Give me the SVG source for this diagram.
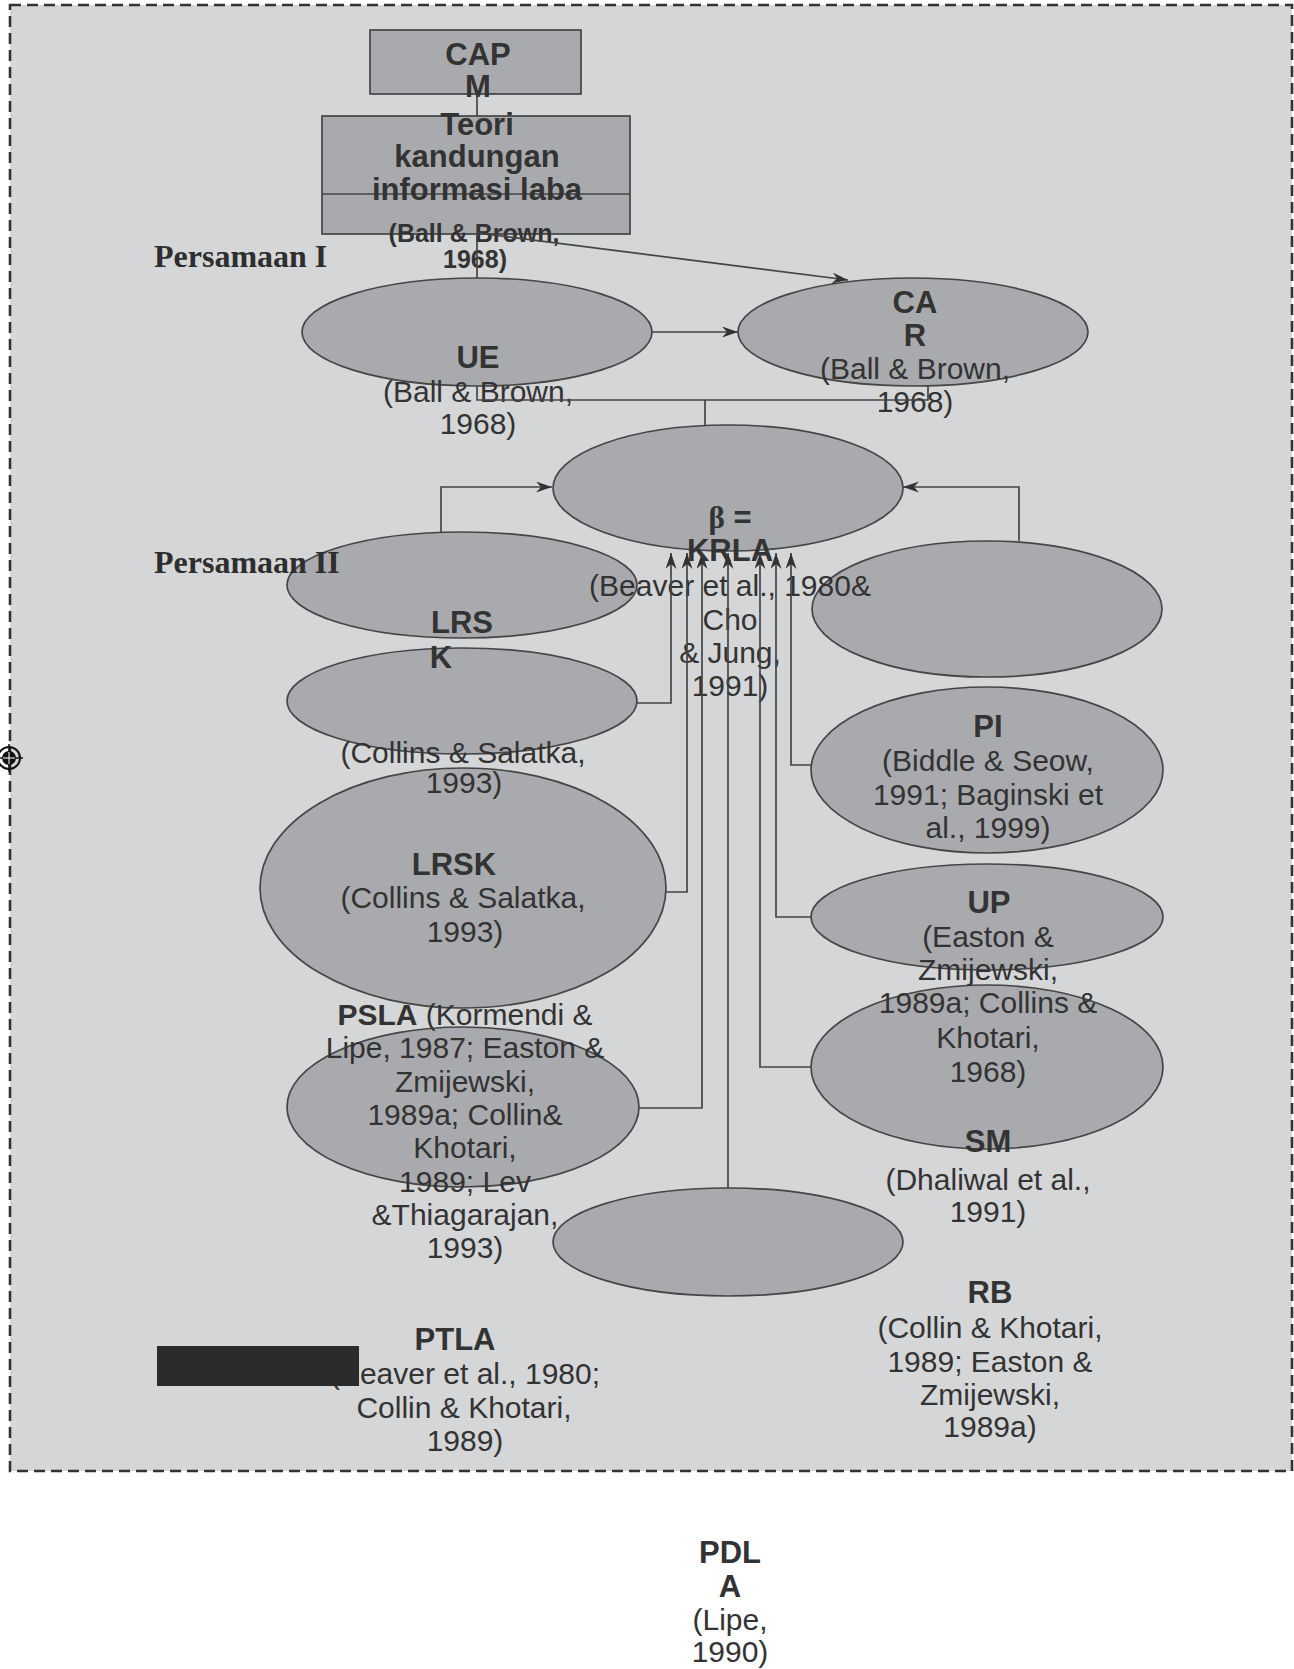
<svg xmlns="http://www.w3.org/2000/svg" width="1294" height="1669" viewBox="0 0 1294 1669">
<defs>
<style>
.bg{fill:#d5d6d8;stroke:#333;stroke-width:2.6;stroke-dasharray:11 6}
.sh{fill:#a9aaad;stroke:#454545;stroke-width:1.7}
.ln{fill:none;stroke:#454545;stroke-width:1.7}
text{font-family:"Liberation Sans",Arial,sans-serif;fill:#333;text-anchor:middle}
.t{font-weight:bold;font-size:31px}
.c{font-size:30px}
.s{font-weight:bold;font-size:25px}
.p{font-family:"Liberation Serif","Times New Roman",serif;font-weight:bold;font-size:32px;text-anchor:start;fill:#2e2e2e}
</style>
<marker id="ah" markerUnits="userSpaceOnUse" markerWidth="18" markerHeight="12" refX="16" refY="5.5" orient="auto">
<path d="M0,0 L16,5.5 L0,11 L5,5.5 z" fill="#333"/>
</marker>
</defs>
<rect x="0" y="0" width="1294" height="1669" fill="#ffffff"/>
<rect class="bg" x="10" y="5" width="1282" height="1466"/>
<g id="crosshair">
<circle cx="9" cy="758" r="11" fill="none" stroke="#111" stroke-width="2"/>
<circle cx="9" cy="758" r="7" fill="#111"/>
<line x1="-5" y1="758" x2="23" y2="758" stroke="#111" stroke-width="1.5"/>
<line x1="9" y1="744" x2="9" y2="772" stroke="#111" stroke-width="1.5"/>
<line x1="3" y1="758" x2="15" y2="758" stroke="#fff" stroke-width="1"/>
<line x1="9" y1="752" x2="9" y2="764" stroke="#fff" stroke-width="1"/>
</g>

<g id="capm">
<rect class="sh" x="370" y="30" width="211" height="64"/>
<text class="t" x="478" y="65">CAP</text>
<text class="t" x="478" y="97">M</text>
</g>
<g id="teori">
<rect class="sh" x="322" y="116" width="308" height="118"/>
<line class="ln" x1="322" y1="194" x2="630" y2="194"/>
<text class="t" x="477" y="135">Teori</text>
<text class="t" x="477" y="167">kandungan</text>
<text class="t" x="477" y="200">informasi laba</text>
<text class="s" x="474" y="242">(Ball &amp; Brown,</text>
<text class="s" x="475" y="268">1968)</text>
</g>
<g id="ue">
<ellipse class="sh" cx="477" cy="332" rx="175" ry="54"/>
<text class="t" x="478" y="368">UE</text>
<text class="c" x="478" y="402">(Ball &amp; Brown,</text>
<text class="c" x="478" y="434">1968)</text>
</g>
<g id="car">
<ellipse class="sh" cx="913" cy="332" rx="175" ry="54"/>
<text class="t" x="915" y="313">CA</text>
<text class="t" x="915" y="346">R</text>
<text class="c" x="915" y="379">(Ball &amp; Brown,</text>
<text class="c" x="915" y="412">1968)</text>
</g>
<g id="empty-left">
<ellipse class="sh" cx="462" cy="585" rx="175" ry="53"/>
</g>
<g id="empty-right">
<ellipse class="sh" cx="987" cy="609" rx="175" ry="68"/>
</g>
<g id="lrsk-big">
<ellipse class="sh" cx="463" cy="888" rx="203" ry="120"/>
<text class="t" x="454" y="875">LRSK</text>
<text class="c" x="463" y="908">(Collins &amp; Salatka,</text>
<text class="c" x="465" y="942">1993)</text>
</g>
<g id="lrsk">
<ellipse class="sh" cx="462" cy="701" rx="175" ry="53"/>
<text class="t" x="462" y="633">LRS</text>
<text class="t" x="441" y="668">K</text>
<text class="c" x="463" y="763">(Collins &amp; Salatka,</text>
<text class="c" x="464" y="793">1993)</text>
</g>
<g id="ptla">
<ellipse class="sh" cx="728" cy="1242" rx="175" ry="54"/>
<text class="t" x="455" y="1350">PTLA</text>
<text class="c" x="465" y="1384">(Beaver et al., 1980;</text>
<text class="c" x="464" y="1418">Collin &amp; Khotari,</text>
<text class="c" x="465" y="1451">1989)</text>
<rect x="157" y="1346" width="202" height="40" fill="#2b2b2b"/>
</g>
<g id="psla">
<ellipse class="sh" cx="463" cy="1107" rx="176" ry="80"/>
<text class="c" x="465" y="1025"><tspan font-weight="bold">PSLA</tspan> (Kormendi &amp;</text>
<text class="c" x="465" y="1058">Lipe, 1987; Easton &amp;</text>
<text class="c" x="465" y="1092">Zmijewski,</text>
<text class="c" x="465" y="1125">1989a; Collin&amp;</text>
<text class="c" x="465" y="1158">Khotari,</text>
<text class="c" x="465" y="1192">1989; Lev</text>
<text class="c" x="465" y="1225">&amp;Thiagarajan,</text>
<text class="c" x="465" y="1258">1993)</text>
</g>
<g id="beta">
<ellipse class="sh" cx="728" cy="488" rx="175" ry="63"/>
<text class="t" x="730" y="528"><tspan font-family="Liberation Serif, serif">β</tspan> =</text>
<text class="t" x="730" y="561">KRLA</text>
<text class="c" x="730" y="596">(Beaver et al., 1980&amp;</text>
<text class="c" x="730" y="630">Cho</text>
<text class="c" x="730" y="663">&amp; Jung,</text>
<text class="c" x="730" y="696">1991)</text>
</g>
<g id="pi">
<ellipse class="sh" cx="987" cy="770" rx="176" ry="83"/>
<text class="t" x="988" y="737">PI</text>
<text class="c" x="988" y="771">(Biddle &amp; Seow,</text>
<text class="c" x="988" y="805">1991; Baginski et</text>
<text class="c" x="988" y="838">al., 1999)</text>
</g>
<g id="sm">
<ellipse class="sh" cx="987" cy="1067" rx="176" ry="82"/>
<text class="t" x="988" y="1152">SM</text>
<text class="c" x="988" y="1190">(Dhaliwal et al.,</text>
<text class="c" x="988" y="1222">1991)</text>
</g>
<g id="up">
<ellipse class="sh" cx="987" cy="917" rx="176" ry="53"/>
<text class="t" x="989" y="913">UP</text>
<text class="c" x="988" y="947">(Easton &amp;</text>
<text class="c" x="988" y="980">Zmijewski,</text>
<text class="c" x="988" y="1013">1989a; Collins &amp;</text>
<text class="c" x="988" y="1048">Khotari,</text>
<text class="c" x="988" y="1082">1968)</text>
</g>
<g id="rb">
<text class="t" x="990" y="1303">RB</text>
<text class="c" x="990" y="1338">(Collin &amp; Khotari,</text>
<text class="c" x="990" y="1372">1989; Easton &amp;</text>
<text class="c" x="990" y="1405">Zmijewski,</text>
<text class="c" x="990" y="1437">1989a)</text>
</g>
<g id="pdla">
<text class="t" x="730" y="1563">PDL</text>
<text class="t" x="730" y="1597">A</text>
<text class="c" x="730" y="1630">(Lipe,</text>
<text class="c" x="730" y="1662">1990)</text>
</g>
<g id="labels">
<text class="p" x="154" y="267">Persamaan I</text>
<text class="p" x="154" y="573">Persamaan II</text>
</g>

<g id="connectors">
<line class="ln" x1="477" y1="94" x2="477" y2="116"/>
<line class="ln" x1="477" y1="234" x2="477" y2="278"/>
<line class="ln" x1="477" y1="233" x2="848" y2="280" marker-end="url(#ah)"/>
<line class="ln" x1="652" y1="332" x2="738" y2="332" marker-end="url(#ah)"/>
<path class="ln" d="M477,386 V400 H928 V386"/>
<line class="ln" x1="705" y1="400" x2="705" y2="425"/>
<path class="ln" d="M441,532 V487 H552" marker-end="url(#ah)"/>
<path class="ln" d="M1019,541 V487 H903" marker-end="url(#ah)"/>
<path class="ln" d="M637,703 H671 V553" marker-end="url(#ah)"/>
<path class="ln" d="M666,892 H687 V553" marker-end="url(#ah)"/>
<path class="ln" d="M639,1108 H702 V553" marker-end="url(#ah)"/>
<path class="ln" d="M728,1188 V553" marker-end="url(#ah)"/>
<path class="ln" d="M811,1067 H760 V553" marker-end="url(#ah)"/>
<path class="ln" d="M811,917 H776 V553" marker-end="url(#ah)"/>
<path class="ln" d="M811,765 H791 V553" marker-end="url(#ah)"/>
</g>
</svg>
